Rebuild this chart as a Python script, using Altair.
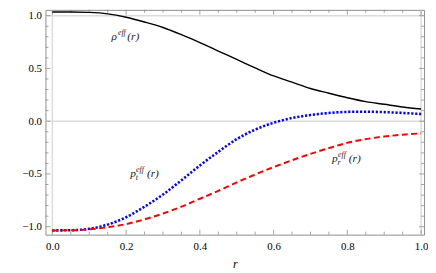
import altair as alt
import pandas as pd

# ---- data ----
r_vals = [0.0, 0.05, 0.1, 0.15, 0.2, 0.25, 0.3, 0.35, 0.4, 0.45, 0.5,
          0.55, 0.6, 0.65, 0.7, 0.75, 0.8, 0.85, 0.9, 0.95, 1.0]
rho_eff = [1.035, 1.035, 1.031, 1.017, 0.985, 0.94, 0.888, 0.82, 0.745, 0.665, 0.585,
           0.505, 0.43, 0.37, 0.31, 0.265, 0.222, 0.185, 0.16, 0.135, 0.115]
pt_eff = [-1.035, -1.033, -1.02, -0.98, -0.91, -0.81, -0.695, -0.56, -0.42, -0.29, -0.17,
          -0.08, -0.015, 0.03, 0.058, 0.078, 0.088, 0.09, 0.086, 0.078, 0.068]
pr_eff = [-1.035, -1.034, -1.025, -1.005, -0.975, -0.93, -0.875, -0.81, -0.735, -0.66, -0.58,
          -0.505, -0.435, -0.37, -0.31, -0.255, -0.205, -0.17, -0.145, -0.128, -0.115]

x_major = [0.0, 0.2, 0.4, 0.6, 0.8, 1.0]
x_minor = [0.05, 0.1, 0.15, 0.25, 0.3, 0.35, 0.45, 0.5, 0.55, 0.65, 0.7, 0.75,
           0.85, 0.9, 0.95]
y_major = [-1.0, -0.5, 0.0, 0.5, 1.0]
y_minor = [-0.9, -0.8, -0.7, -0.6, -0.4, -0.3, -0.2, -0.1, 0.1, 0.2, 0.3, 0.4,
           0.6, 0.7, 0.8, 0.9]
x_grid = [0.0, 1.0]
y_grid = [0.0, 1.0]

# label anchors (left end, baseline of main letter)
label_base = ["ρ", "p", "p"]
label_sub = ["", "t", "r"]
label_r = [0.1604, 0.211, 0.7585]
label_v = [0.77, -0.528, -0.388]

W, H = 384, 228
XD = [-0.0187, 1.008]
YD = [-1.075, 1.055]
FONT = "Liberation Serif"
FRAME = "#8c8c8c"

xs = alt.Scale(domain=XD, nice=False, zero=False)
ys = alt.Scale(domain=YD, nice=False, zero=False)

df = pd.DataFrame({"r": r_vals, "rho": rho_eff, "pt": pt_eff, "pr": pr_eff})

base = alt.Chart(df)

rho_line = base.mark_line(color="black", strokeWidth=1.4, interpolate="monotone").encode(
    x=alt.X("r:Q", scale=xs,
            axis=alt.Axis(values=x_major, format=".1f", title="r", ticks=False, domain=False,
                          grid=False, labelFont=FONT, labelFontSize=11, labelColor="black",
                          labelPadding=6, titleFont=FONT, titleFontStyle="italic",
                          titleFontWeight="normal", titleFontSize=12, titleColor="black",
                          titlePadding=7)),
    y=alt.Y("rho:Q", scale=ys,
            axis=alt.Axis(values=y_major, format=".1f", title=None, ticks=False, domain=False,
                          grid=False, labelFont=FONT, labelFontSize=11, labelColor="black",
                          labelPadding=4)),
)
pt_line = base.mark_line(color="#0000ff", strokeWidth=2.6, strokeDash=[2.2, 1.8],
                         interpolate="monotone").encode(x=alt.X("r:Q", scale=xs),
                                                        y=alt.Y("pt:Q", scale=ys))
pr_line = base.mark_line(color="#ff0000", strokeWidth=2.0, strokeDash=[6, 3.5],
                         interpolate="monotone").encode(x=alt.X("r:Q", scale=xs),
                                                        y=alt.Y("pr:Q", scale=ys))

# grid lines
gx = alt.Chart(pd.DataFrame({"g": x_grid})).mark_rule(color="#dcdcdc", strokeWidth=1.5).encode(
    x=alt.X("g:Q", scale=xs), y=alt.value(0), y2=alt.value(H))
gy = alt.Chart(pd.DataFrame({"g": y_grid})).mark_rule(color="#dcdcdc", strokeWidth=1.5).encode(
    y=alt.Y("g:Q", scale=ys), x=alt.value(0), x2=alt.value(W))

layers = [gx, gy]

# inward frame ticks
def xticks(vals, length):
    d = pd.DataFrame({"t": vals})
    top = alt.Chart(d).mark_rule(color=FRAME, strokeWidth=0.8).encode(
        x=alt.X("t:Q", scale=xs), y=alt.value(0), y2=alt.value(length))
    bot = alt.Chart(d).mark_rule(color=FRAME, strokeWidth=0.8).encode(
        x=alt.X("t:Q", scale=xs), y=alt.value(H), y2=alt.value(H - length))
    return [top, bot]

def yticks(vals, length):
    d = pd.DataFrame({"t": vals})
    left = alt.Chart(d).mark_rule(color=FRAME, strokeWidth=0.8).encode(
        y=alt.Y("t:Q", scale=ys), x=alt.value(0), x2=alt.value(length))
    right = alt.Chart(d).mark_rule(color=FRAME, strokeWidth=0.8).encode(
        y=alt.Y("t:Q", scale=ys), x=alt.value(W), x2=alt.value(W - length))
    return [left, right]

layers += xticks(x_major, 5) + xticks(x_minor, 3) + yticks(y_major, 5) + yticks(y_minor, 3)

layers += [rho_line, pt_line, pr_line]

# labels
for b, s, lr, lv in zip(label_base, label_sub, label_r, label_v):
    d = pd.DataFrame({"r": [lr], "v": [lv]})
    enc = dict(x=alt.X("r:Q", scale=xs), y=alt.Y("v:Q", scale=ys))
    tkw = dict(font=FONT, fontStyle="italic", align="left", baseline="alphabetic",
               color="#222222")
    layers.append(alt.Chart(d).mark_text(text=b, fontSize=11.5, **tkw).encode(**enc))
    eff_dx = 6.5 if b == "ρ" else 6.0
    layers.append(alt.Chart(d).mark_text(text="eff", fontSize=8, dx=eff_dx, dy=-5,
                                         **tkw).encode(**enc))
    if s:
        layers.append(alt.Chart(d).mark_text(text=s, fontSize=8, dx=5.6, dy=3,
                                             **tkw).encode(**enc))
    layers.append(alt.Chart(d).mark_text(text="(r)", fontSize=11.5, dx=16 if b == "ρ" else 17,
                                         **tkw).encode(**enc))

chart = alt.layer(*layers).properties(
    width=W, height=H,
    autosize=alt.AutoSizeParams(type="none"),
    padding={"left": 38, "top": 0, "right": 4, "bottom": 35},
).configure_view(stroke=FRAME, strokeWidth=1)

chart.save("out.html", embed_options={"renderer": "svg", "actions": False})
